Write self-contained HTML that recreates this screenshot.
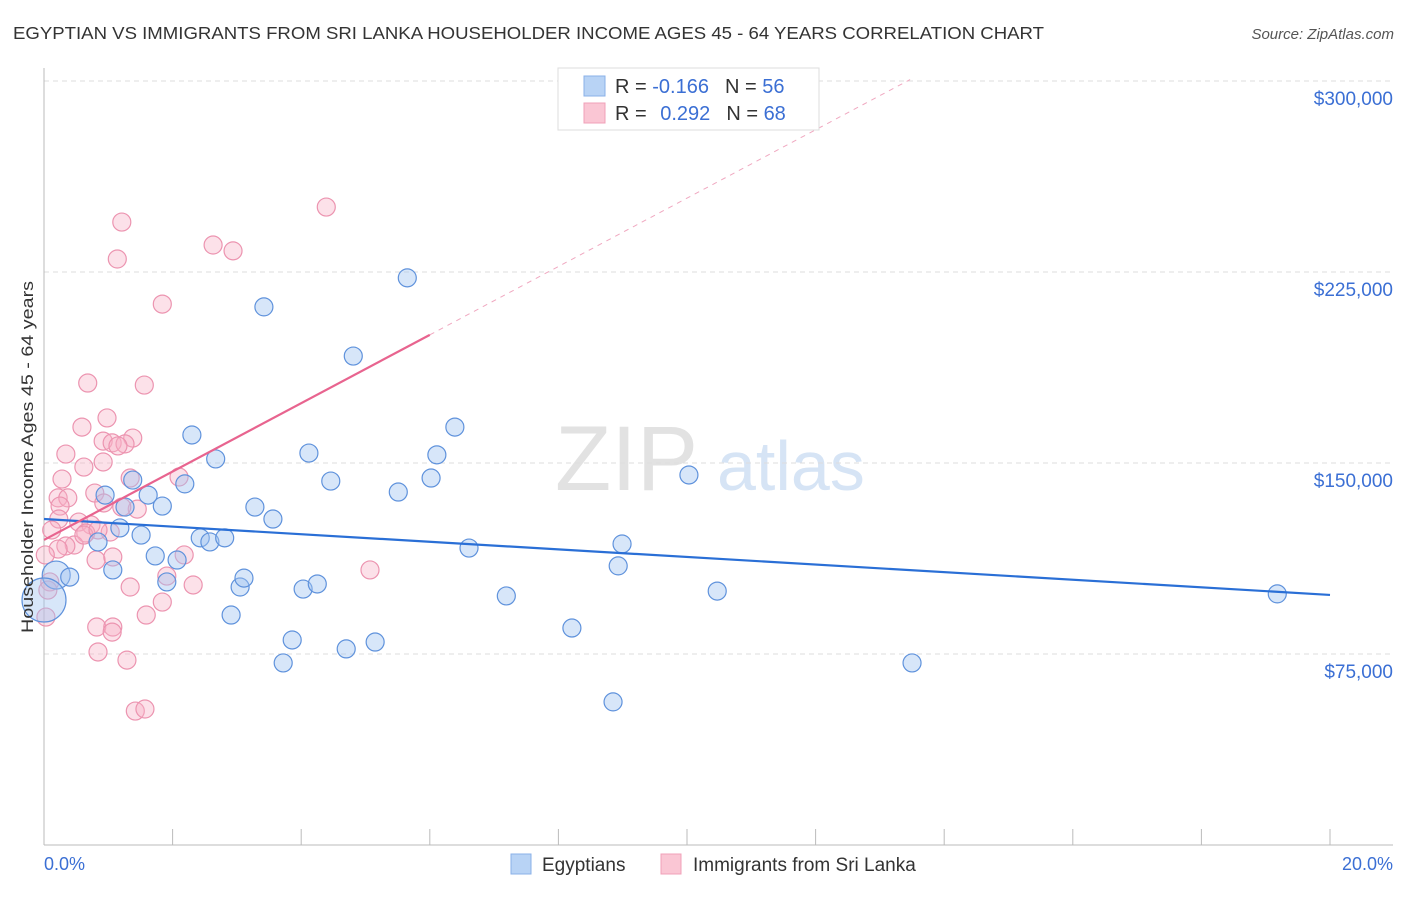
<!DOCTYPE html>
<html><head><meta charset="utf-8">
<style>
body{margin:0;background:#fff;font-family:"Liberation Sans",sans-serif;}
svg text{font-family:"Liberation Sans",sans-serif;}
</style></head>
<body>
<svg id="chart" width="1406" height="892" viewBox="0 0 1406 892" xmlns="http://www.w3.org/2000/svg">
<text x="13" y="39" font-size="17.5" fill="#333" textLength="1031" lengthAdjust="spacingAndGlyphs">EGYPTIAN VS IMMIGRANTS FROM SRI LANKA HOUSEHOLDER INCOME AGES 45 - 64 YEARS CORRELATION CHART</text>
<text x="1394" y="39" font-size="15" fill="#555" font-style="italic" text-anchor="end">Source: ZipAtlas.com</text>
<g>
<text x="555" y="490" font-size="92" fill="#e2e2e2" font-family="Liberation Serif, serif">ZIP</text>
<text x="717" y="490" font-size="70" fill="#d6e4f5">atlas</text>
</g>
<g id="grid"></g>
<g id="axes"></g>
<g id="marks"></g>
<g>
<rect x="558" y="68" width="261" height="62" fill="#fff" stroke="#ddd"/>
<rect x="584" y="76" width="21" height="20" fill="#b8d3f5" stroke="#8ab0e8"/>
<rect x="584" y="103" width="21" height="20" fill="#fac6d4" stroke="#f0a0b8"/>
<text x="615" y="93" font-size="20" fill="#333">R = <tspan fill="#3b6fd4">-0.166</tspan><tspan dx="16">N = </tspan><tspan fill="#3b6fd4">56</tspan></text>
<text x="615" y="120" font-size="20" fill="#333">R = <tspan dx="8" fill="#3b6fd4">0.292</tspan><tspan dx="16">N = </tspan><tspan fill="#3b6fd4">68</tspan></text>
</g>
<text transform="translate(33,457) rotate(-90)" font-size="17" fill="#333" text-anchor="middle" textLength="352" lengthAdjust="spacingAndGlyphs">Householder Income Ages 45 - 64 years</text>
<text x="44" y="870" font-size="18" fill="#3b6fd4">0.0%</text>
<text x="1393" y="870" font-size="18" fill="#3b6fd4" text-anchor="end">20.0%</text>
<g>
<rect x="511" y="854" width="20" height="20" fill="#b8d3f5" stroke="#8ab0e8"/>
<text x="542" y="871" font-size="19" fill="#333">Egyptians</text>
<rect x="661" y="854" width="20" height="20" fill="#fac6d4" stroke="#f0a0b8"/>
<text x="693" y="871" font-size="19" fill="#333">Immigrants from Sri Lanka</text>
</g>
</svg>
<script>
const yTicks=[75,150,225,300];
const yTickLabels=["$75,000","$150,000","$225,000","$300,000"];
const xTicks=[0,2,4,6,8,10,12,14,16,18,20];
const blueX=[0.19,0,0.40,0.84,1.07,0.95,1.18,1.26,1.38,1.51,1.62,1.73,1.84,1.91,2.07,2.19,2.30,2.43,2.58,2.67,2.81,2.91,3.05,3.11,3.28,3.42,3.56,3.72,3.86,4.03,4.12,4.25,4.46,4.70,4.81,5.15,5.51,5.65,6.02,6.11,6.39,6.61,7.19,8.21,8.85,8.93,8.99,10.03,10.47,13.50,19.18];
const blueY=[106.0,96.2,105.2,119.0,108.0,137.4,124.5,132.7,143.3,121.7,137.4,113.5,133.1,103.3,111.9,141.8,161.0,120.6,119.0,151.6,120.6,90.3,101.3,104.8,132.7,211.3,128.0,71.5,80.5,100.5,153.9,102.5,142.9,77.0,192.0,79.7,138.6,222.7,144.1,153.2,164.1,116.6,97.8,85.2,56.2,109.6,118.2,145.3,99.7,71.5,98.6];
const blueR=[14,22];
const pinkX=[1.21,4.39,2.63,2.94,1.14,1.84,0.68,1.56,0.98,0.59,0.34,1.38,0.92,1.06,1.26,1.15,0.92,0.62,0.28,1.34,2.10,0.79,0.22,0.37,0.93,1.45,0.25,1.21,0.23,0.54,0.12,0.73,0.65,1.03,0.47,0.34,0.22,0.81,1.07,2.18,1.91,5.07,0.09,0.06,1.34,2.32,1.84,1.59,0.03,0.82,1.07,1.06,0.84,1.29,1.42,1.57,0.62,0.84,0.02];
const pinkY=[244.6,250.5,235.6,233.3,230.1,212.4,181.4,180.6,167.7,164.1,153.5,159.8,158.6,157.9,157.5,156.7,150.4,148.4,143.7,144.1,144.5,138.2,136.3,136.3,134.3,131.9,133.1,132.7,128.0,126.8,123.7,125.7,122.5,122.9,117.8,117.4,116.2,111.9,113.1,113.9,105.6,108.0,103.3,100.1,101.3,102.1,95.4,90.3,89.5,85.6,85.6,83.6,75.8,72.6,52.6,53.4,121.7,123.7,113.9];
const blueLine=[128.0,98.2];
const pinkLine=[119.8,13.42];
const pinkSolidEnd=6.0, pinkDashEnd=13.47;

const X0=44,X1=1330,Y0=845,PXK=191/75;
const xs=v=>X0+(X1-X0)*v/20;
const ys=v=>Y0-v*PXK;
const NS="http://www.w3.org/2000/svg";
function mk(t,a,p){const e=document.createElementNS(NS,t);for(const k in a)e.setAttribute(k,a[k]);p.appendChild(e);return e;}
const grid=document.getElementById('grid'),axes=document.getElementById('axes'),marks=document.getElementById('marks');
yTicks.forEach((t,i)=>{
  const l=mk('line',{x1:X0,x2:1393,y1:ys(t),y2:ys(t),stroke:'#ddd','stroke-dasharray':'5,4'},grid);
  
  
  const tx=mk('text',{x:1393,y:ys(t)+24,'font-size':19,fill:'#3b6fd4','text-anchor':'end'},axes);
  tx.textContent=yTickLabels[i];
  
  
});
let a=mk('line',{x1:X0,x2:X0,y1:68,y2:Y0,stroke:'#bbb'},axes);


a=mk('line',{x1:X0,x2:1393,y1:Y0,y2:Y0,stroke:'#bbb'},axes);


xTicks.forEach(t=>{
  const l=mk('line',{x1:xs(t),x2:xs(t),y1:Y0-16,y2:Y0,stroke:'#bbb'},axes);
  
  
});
pinkX.forEach((x,i)=>{
  const c=mk('circle',{cx:xs(x),cy:ys(pinkY[i]),r:9,fill:'rgba(248,175,198,0.38)',stroke:'#ec94b0','stroke-width':1.2},marks);
  
  
});
blueX.forEach((x,i)=>{
  const c=mk('circle',{cx:xs(x),cy:ys(blueY[i]),r:blueR[i]||9,fill:'rgba(160,196,240,0.42)',stroke:'#5f92dc','stroke-width':1.2},marks);
  
  
});
let ln=mk('line',{x1:xs(0),y1:ys(blueLine[0]),x2:xs(20),y2:ys(blueLine[1]),stroke:'#2a6fd6','stroke-width':2.2},marks);


const pv=x=>pinkLine[0]+pinkLine[1]*x;
ln=mk('line',{x1:xs(pinkSolidEnd),y1:ys(pv(pinkSolidEnd)),x2:xs(pinkDashEnd),y2:ys(pv(pinkDashEnd)),stroke:'#f0a8c0','stroke-width':1,'stroke-dasharray':'5,5'},marks);


ln=mk('line',{x1:xs(0),y1:ys(pv(0)),x2:xs(pinkSolidEnd),y2:ys(pv(pinkSolidEnd)),stroke:'#e8648f','stroke-width':2.2},marks);


</script>
</body></html>
